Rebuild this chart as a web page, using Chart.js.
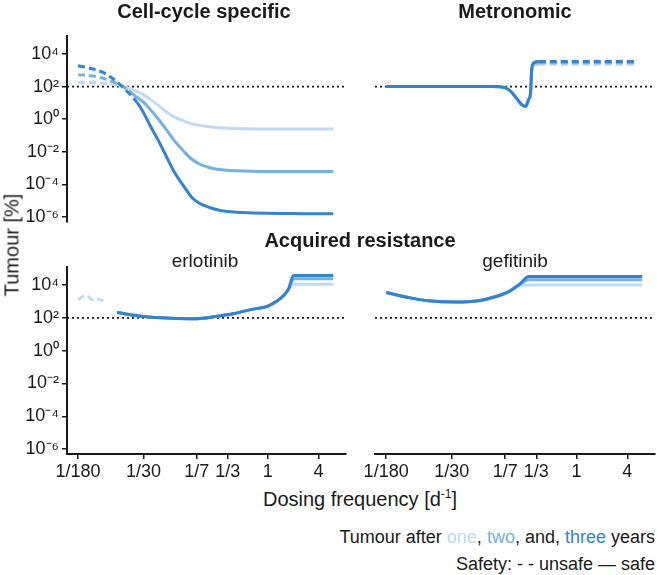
<!DOCTYPE html>
<html>
<head>
<meta charset="utf-8">
<script src="https://cdn.jsdelivr.net/npm/chart.js@4.4.1/dist/chart.umd.min.js"></script>
<style>
  html, body { margin: 0; padding: 0; background: #fff; }
  body { width: 657px; height: 575px; position: relative; overflow: hidden;
         font-family: "Liberation Sans", Arial, sans-serif; color: #1a1a1a; }
  .panel { position: absolute; }
  .txt { position: absolute; white-space: nowrap; transform: translate(-50%, -50%); }
  .title { font-weight: bold; font-size: 20px; }
  .sub { font-size: 19px; }
  .ylab { font-size: 20px; transform: translate(-50%, -50%) rotate(-90deg); }
  .xlab { font-size: 20px; }
  .xlab sup { font-size: 12px; }
  .legend { position: absolute; right: 2px; font-size: 18px; white-space: nowrap; transform: translateY(-50%); }
</style>
</head>
<body>

<div class="panel" id="pTL" style="left:0px;top:22px;width:352px;height:214px"><canvas id="cTL"></canvas></div>
<div class="panel" id="pTR" style="left:340px;top:22px;width:317px;height:214px"><canvas id="cTR"></canvas></div>
<div class="panel" id="pBL" style="left:0px;top:253px;width:352px;height:234px"><canvas id="cBL"></canvas></div>
<div class="panel" id="pBR" style="left:340px;top:253px;width:317px;height:234px"><canvas id="cBR"></canvas></div>

<div class="txt title" style="left:204px;top:11px">Cell-cycle specific</div>
<div class="txt title" style="left:515px;top:11px">Metronomic</div>
<div class="txt title" style="left:360px;top:240px">Acquired resistance</div>
<div class="txt sub" style="left:205px;top:261px">erlotinib</div>
<div class="txt sub" style="left:515px;top:261px">gefitinib</div>
<div class="txt ylab" style="left:12px;top:245px">Tumour [%]</div>
<div class="txt xlab" style="left:360px;top:499px">Dosing frequency [d<sup>-1</sup>]</div>
<div class="legend" style="top:537px">Tumour after <span id="lgOne">one</span>, <span id="lgTwo">two</span>, and, <span id="lgThree">three</span> years</div>
<div class="legend" style="top:564px">Safety: - - unsafe — safe</div>

<script>
// Dosing frequency in 1/day, tumour size in % of initial

const xTicks = [1/180, 1/30, 1/7, 1/3, 1, 4];
const xTickLabels = ['1/180', '1/30', '1/7', '1/3', '1', '4'];
const yTicks = [1e-6, 1e-4, 1e-2, 1, 1e2, 1e4];
const yTickLabels = ['10⁻⁶', '10⁻⁴', '10⁻²', '10⁰', '10²', '10⁴'];
const threshold = 100;
const xRange = [0.0041, 8.5];
const yRange = [5e-7, 1.26e5];

// Cell-cycle specific
const cellFreq  = [1/180, 1/120, 1/90, 1/70, 1/55, 1/45, 1/36, 1/30, 1/25, 1/20, 1/16, 1/13, 1/10, 1/8, 1/6.5, 1/5, 1/4, 1/3, 1/2, 1, 2, 4, 6];
const cellOne   = [180, 180, 165, 140, 112, 80, 50, 32, 16, 7, 2.8, 1.4, 0.8, 0.52, 0.42, 0.34, 0.3, 0.28, 0.26, 0.25, 0.25, 0.25, 0.25];
const cellTwo   = [540, 450, 320, 200, 112, 56, 22, 11, 4, 1, 0.22, 0.05, 0.011, 3.5e-3, 1.8e-3, 1.1e-3, 8.5e-4, 7.4e-4, 6.8e-4, 6.3e-4, 6.3e-4, 6.3e-4, 6.3e-4];
const cellThree = [1900, 1200, 710, 320, 112, 40, 11, 2.5, 0.4, 0.05, 5e-3, 6e-4, 8e-5, 1.6e-5, 7e-6, 4e-6, 2.8e-6, 2.2e-6, 1.9e-6, 1.7e-6, 1.65e-6, 1.6e-6, 1.6e-6];
const cellUnsafeBelow = [1/70, 1/45, 1/36];   // one, two, three years

// Metronomic
const metroFreq  = [1/180, 1/60, 1/20, 1/10, 1/8, 1/6.3, 1/5.2, 1/4.5, 1/4, 1/3.7, 1/3.5, 1/3.4, 1/3.2, 1/2.8, 1/2, 1, 2, 5.25];
const metroOne   = [100, 100, 100, 100, 98, 63, 21, 8, 6, 16, 43, 900, 2100, 2300, 2300, 2300, 2300, 2300];
const metroTwo   = [100, 100, 100, 100, 98, 63, 21, 8, 6, 16, 43, 1000, 2600, 2900, 2900, 2900, 2900, 2900];
const metroThree = [100, 100, 100, 100, 98, 63, 21, 8, 6, 16, 43, 1100, 2950, 3400, 3400, 3400, 3400, 3400];
const metroUnsafeAbove = 1/2.8;

// Acquired resistance: erlotinib
const erloFreq  = [1/180, 1/149, 1/137, 1/122, 1/113, 1/104, 1/86, 1/75, 1/62, 1/30, 1/14.5, 1/6.9, 1/4.2, 1/2.6, 1/1.6, 1, 1.3, 1.53, 1.76, 2.02, 6];
const erloOne   = [1260, 2300, 2000, 1260, 1600, 1400, 1000, null, 210, 120, 95, 89, 120, 178, 316, 520, 1100, 2200, 5600, 11200, 11200];
const erloTwo   = [null, null, null, null, null, null, null, null, 210, 120, 95, 89, 120, 178, 316, 520, 1100, 2200, 5600, 24000, 24000];
const erloThree = [null, null, null, null, null, null, null, null, 210, 120, 95, 89, 120, 178, 316, 520, 1100, 2200, 5600, 38000, 38000];
const erloUnsafeBelow = 1/80;

// Acquired resistance: gefitinib
const gefiFreq  = [1/180, 1/90, 1/57, 1/27, 1/14.5, 1/9, 1/6.35, 1/4.83, 1/3.67, 6];
const gefiOne   = [3500, 1600, 1100, 910, 1100, 2000, 4000, 10000, 10000, 10000];
const gefiTwo   = [3500, 1600, 1100, 910, 1100, 2000, 4000, 10000, 21000, 21000];
const gefiThree = [3500, 1600, 1100, 910, 1100, 2000, 4000, 10000, 33000, 33000];

const colors = ['#bfdaf1', '#74b1e0', '#3583cc'];   // one, two, three years
const ink = '#1a1a1a';

document.getElementById('lgOne').style.color = colors[0];
document.getElementById('lgTwo').style.color = colors[1];
document.getElementById('lgThree').style.color = colors[2];

Chart.defaults.font.family = '"Liberation Sans", Arial, sans-serif';
Chart.defaults.color = ink;

function points(freq, values) {
  return freq.map((f, i) => ({ x: f, y: values[i] }));
}

// dashed(ctx, seriesIndex) -> true when the segment is unsafe
function makePanel(id, freq, series, dashed, showX, showY, padLeft, padRight) {
  const datasets = [];
  // darkest first so it is drawn on top
  [2, 1, 0].forEach(k => {
    datasets.push({
      data: points(freq, series[k]),
      borderColor: colors[k],
      borderWidth: 3,
      pointRadius: 0,
      cubicInterpolationMode: 'monotone',
      spanGaps: false,
      borderJoinStyle: 'round',
      segment: { borderDash: ctx => dashed(ctx, k) ? [7, 4] : undefined }
    });
  });
  datasets.push({
    data: [{ x: xRange[0], y: threshold }, { x: xRange[1], y: threshold }],
    borderColor: ink,
    borderWidth: 1.8,
    borderDash: [2, 3],
    pointRadius: 0
  });

  return new Chart(document.getElementById(id), {
    type: 'line',
    data: { datasets },
    options: {
      responsive: true,
      maintainAspectRatio: false,
      animation: false,
      layout: { padding: { top: 14, right: padRight, bottom: showX ? 3 : 14, left: padLeft } },
      plugins: { legend: { display: false }, tooltip: { enabled: false } },
      scales: {
        x: {
          type: 'logarithmic',
          display: showX,
          bounds: 'data',
          min: xRange[0],
          max: xRange[1],
          afterBuildTicks: s => { s.ticks = xTicks.map(v => ({ value: v })); },
          afterFit: s => { s.height = showX ? 30 : 0; },
          border: { display: true, color: ink, width: 2 },
          grid: { display: true, drawOnChartArea: false, drawTicks: true, tickLength: 5, color: ink, lineWidth: 1.5 },
          ticks: { autoSkip: false, maxRotation: 0, padding: 2, font: { size: 18 }, color: ink,
                   callback: (v, i) => xTickLabels[i] }
        },
        y: {
          type: 'logarithmic',
          display: showY,
          bounds: 'data',
          min: yRange[0],
          max: yRange[1],
          afterBuildTicks: s => { s.ticks = yTicks.map(v => ({ value: v })); },
          afterFit: s => { s.width = showY ? 67 : 0; },
          border: { display: true, color: ink, width: 2 },
          grid: { display: true, drawOnChartArea: false, drawTicks: true, tickLength: 5, color: ink, lineWidth: 1.5 },
          ticks: { autoSkip: false, padding: 3, font: { size: 18 }, color: ink,
                   callback: (v, i) => yTickLabels[i] }
        }
      }
    }
  });
}

makePanel('cTL', cellFreq, [cellOne, cellTwo, cellThree],
  (ctx, k) => ctx.p1.parsed.x <= cellUnsafeBelow[k], false, true, 0, 6);
makePanel('cTR', metroFreq, [metroOne, metroTwo, metroThree],
  ctx => ctx.p0.parsed.x >= metroUnsafeAbove, false, false, 35, 2);
makePanel('cBL', erloFreq, [erloOne, erloTwo, erloThree],
  ctx => ctx.p1.parsed.x <= erloUnsafeBelow, true, true, 0, 6);
makePanel('cBR', gefiFreq, [gefiOne, gefiTwo, gefiThree],
  () => false, true, false, 35, 2);
</script>
</body>
</html>
